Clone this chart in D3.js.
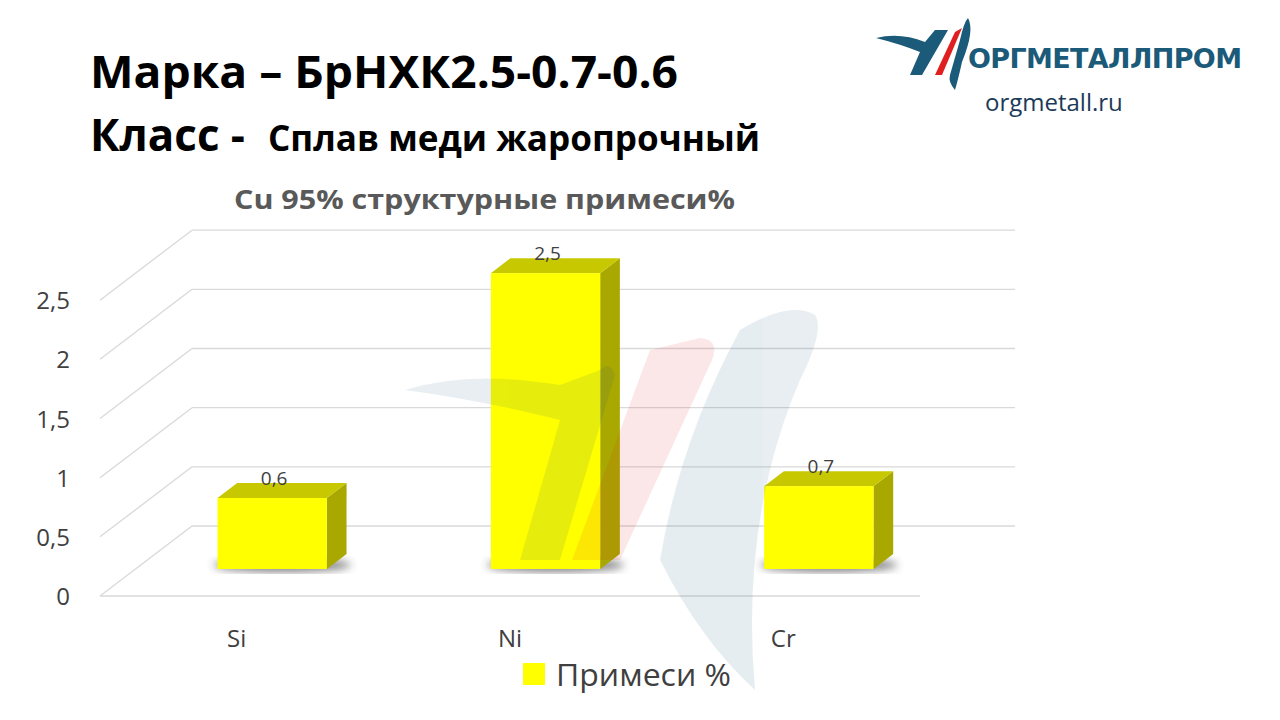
<!DOCTYPE html>
<html><head><meta charset="utf-8">
<script src="https://cdn.jsdelivr.net/npm/d3@7"></script>
<style>body{margin:0;background:#fff}svg{font-family:"Open Sans","Noto Sans",sans-serif}</style>
</head><body><svg id="c" width="1280" height="720"></svg>
<script>
const categories = ["Si","Ni","Cr"];
const values = [0.6, 2.5, 0.7];
const valueLabels = ["0,6","2,5","0,7"];
const tickValues = [0,0.5,1,1.5,2,2.5];
const tickLabels = ["0","0,5","1","1,5","2","2,5"];
const seriesName = "Примеси %";

const svg = d3.select("#c");
const x0 = 100, x1 = 920, yBase = 596, DX = 92, DY = -70;
const y = d3.scaleLinear().domain([0,3]).range([yBase, yBase - 355]);
const x = d3.scaleBand().domain(categories).range([x0,x1]).paddingInner(0.6).paddingOuter(0.3);

// grid
const g = svg.append("g");
tickValues.forEach(v=>{
  const yy = y(v);
  g.append("line").attr("x1",x0).attr("y1",yy).attr("x2",x0+DX).attr("y2",yy+DY).attr("stroke","#d9d9d9").attr("stroke-width",1.3);
  g.append("line").attr("x1",x0+DX).attr("y1",yy+DY).attr("x2",1015).attr("y2",yy+DY).attr("stroke","#d9d9d9").attr("stroke-width",1.3);
});
g.append("line").attr("x1",x0).attr("y1",yBase).attr("x2",x1).attr("y2",yBase).attr("stroke","#d9d9d9").attr("stroke-width",1.3);

// tick labels
svg.append("g").selectAll("text").data(tickValues).join("text")
  .attr("x",70).attr("y",d=>y(d)+9).attr("text-anchor","end")
  .attr("font-size",24).attr("fill","#404040").text((d,i)=>tickLabels[i]);

const defs = svg.append("defs");
defs.append("filter").attr("id","blur").append("feGaussianBlur").attr("stdDeviation",4);

const f1 = 0.386, f2 = 0.6;
const bars = svg.append("g");
categories.forEach((c,i)=>{
  const xl = x(c) + DX*f1, xr = xl + x.bandwidth();
  const yb = y(0) + DY*f1, yt = y(values[i]) + DY*f1;
  const ox = DX*(f2-f1), oy = DY*(f2-f1);
  bars.append("ellipse").attr("cx",(xl+xr)/2+10).attr("cy",yb-4).attr("rx",(xr-xl)/2+14).attr("ry",7)
    .attr("fill","#333").attr("opacity",0.6).attr("filter","url(#blur)");
  bars.append("path").attr("d",`M${xr},${yt}L${xr+ox},${yt+oy}L${xr+ox},${yb+oy}L${xr},${yb}Z`).attr("fill","#a8a800");
  bars.append("path").attr("d",`M${xl},${yt}L${xl+ox},${yt+oy}L${xr+ox},${yt+oy}L${xr},${yt}Z`).attr("fill","#c8c800");
  bars.append("rect").attr("x",xl).attr("y",yt).attr("width",xr-xl).attr("height",yb-yt).attr("fill","#ffff00");
  bars.append("text").attr("x",(xl+xr)/2+2).attr("y",yt-13).attr("text-anchor","middle")
    .attr("font-size",19).attr("fill","#404040").text(valueLabels[i]);
  svg.append("text").attr("x",x(c)+x.bandwidth()/2).attr("y",647).attr("text-anchor","middle")
    .attr("font-size",24).attr("fill","#404040").text(c);
});

// watermark logo (overlaying)
const wm = svg.append("g").attr("opacity",0.1);
wm.append("path").attr("d","M405,390 Q470,370 560,385 L600,370 Q610,360 615,375 L560,560 L520,560 L560,420 Q480,400 405,390Z").attr("fill","#1b5a78");
wm.append("path").attr("d","M650,350 L700,338 Q720,340 712,360 L620,560 L572,560Z").attr("fill","#e02020");
wm.append("path").attr("d","M740,330 Q790,300 815,315 Q825,330 800,380 Q740,520 755,690 Q700,640 660,560 Q680,440 740,330Z").attr("fill","#1b5a78");

// titles
svg.append("text").attr("x",90).attr("y",88).attr("font-size",44).attr("font-weight","bold").attr("fill","#000")
  .attr("textLength",588).attr("lengthAdjust","spacingAndGlyphs").text("Марка – БрНХК2.5-0.7-0.6");
svg.append("text").attr("x",90).attr("y",151).attr("font-size",44).attr("font-weight","bold").attr("fill","#000")
  .attr("textLength",155).attr("lengthAdjust","spacingAndGlyphs").text("Класс -");
svg.append("text").attr("x",268).attr("y",151).attr("font-size",35).attr("font-weight","bold").attr("fill","#000")
  .attr("textLength",492).attr("lengthAdjust","spacingAndGlyphs").text("Сплав меди жаропрочный");
svg.append("text").attr("x",234).attr("y",209).attr("font-size",27).attr("font-weight","bold").attr("fill","#595959")
  .attr("textLength",501).attr("lengthAdjust","spacingAndGlyphs").text("Cu 95% структурные примеси%");

// legend
svg.append("rect").attr("x",523).attr("y",663).attr("width",22).attr("height",22).attr("fill","#ffff00");
svg.append("text").attr("x",556).attr("y",686).attr("font-size",31).attr("fill","#404040")
  .attr("textLength",175).attr("lengthAdjust","spacingAndGlyphs").text(seriesName);

// logo
const lg = svg.append("g");
lg.append("path").attr("d","M876,38 Q900,32 925,42 L935,30 L948,30 L922,75 L910,75 L920,52 Q900,44 876,38Z").attr("fill","#1b5a78");
lg.append("path").attr("d","M935,75 L955,32 L962,28 L942,75Z").attr("fill","#e02020");
lg.append("path").attr("d","M950,75 L960,40 Q964,22 968,18 Q975,30 962,62 Q958,80 955,90 Q948,82 950,75Z").attr("fill","#1b5a78");
lg.append("text").attr("x",968).attr("y",68).attr("font-size",27).attr("font-weight","900").attr("fill","#1b5a78").attr("font-family","DejaVu Sans").attr("textLength",274).text("ОРГМЕТАЛЛПРОМ");
svg.append("text").attr("x",985).attr("y",111).attr("font-size",24).attr("fill","#1b3a58").text("orgmetall.ru");
</script></body></html>
